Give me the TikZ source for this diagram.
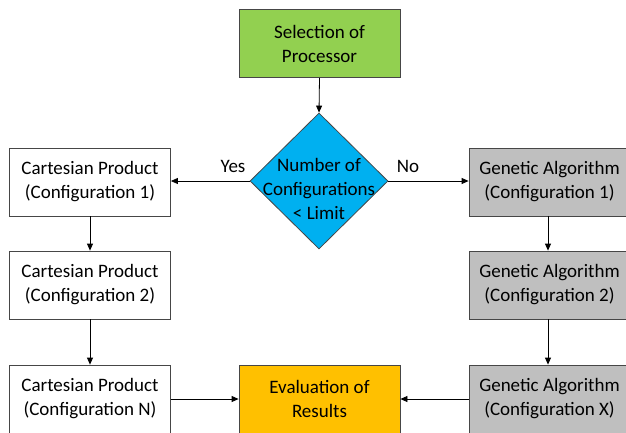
\documentclass[tikz,border=0pt]{standalone}
\usepackage{fontspec}
\setmainfont{Carlito}
\usetikzlibrary{shapes.geometric,arrows.meta}
\definecolor{boxgreen}{RGB}{146,208,80}
\definecolor{boxblue}{RGB}{0,176,240}
\definecolor{boxorange}{RGB}{255,192,0}
\definecolor{boxgray}{RGB}{191,191,191}
\definecolor{edgegray}{RGB}{70,70,70}
\tikzset{
  every node/.style={font=\fontsize{19}{24}\selectfont, align=center, text=black},
  procbox/.style={draw=edgegray, line width=0.8pt, minimum width=161pt, minimum height=68pt, inner sep=0pt},
  decision/.style={diamond, draw=edgegray, line width=0.8pt, fill=boxblue, minimum width=138pt, minimum height=136pt, inner sep=0pt},
  flow/.style={draw=black, line width=0.8pt, -{Triangle[length=7pt,width=6pt]}},
  lbl/.style={inner sep=0pt}
}
\begin{document}
\begin{tikzpicture}[x=1pt,y=-1pt]
  \useasboundingbox (0,0) rectangle (626,432);
  \clip (0,0) rectangle (626,432);
  % start
  \node[procbox, fill=boxgreen] (sel) at (319.5,43.5) {Selection of\\Processor};
  % decision
  \node[decision] (dec) at (319,181) {};
  \node[lbl] (dectext) at (319,189) {Number of\\Configurations\\{<} Limit};
  % cartesian branch
  \node[procbox, fill=white] (cp1) at (90,182) {Cartesian Product\\(Configuration 1)};
  \node[procbox, fill=white] (cp2) at (90,285) {Cartesian Product\\(Configuration 2)};
  \node[procbox, fill=white] (cpn) at (90,399) {Cartesian Product\\(Configuration N)};
  % genetic branch
  \node[procbox, fill=boxgray] (ga1) at (549.5,182) {Genetic Algorithm\\(Configuration 1)};
  \node[procbox, fill=boxgray] (ga2) at (549.5,285) {Genetic Algorithm\\(Configuration 2)};
  \node[procbox, fill=boxgray] (gax) at (549.5,399) {Genetic Algorithm\\(Configuration X)};
  % evaluation
  \node[procbox, fill=boxorange] (eval) at (319.5,399) {Evaluation of\\Results};
  % connectors
  \draw[flow] (sel.south) -- (dec.north);
  \draw[flow] (dec.west) -- (cp1.east |- dec.west);
  \draw[flow] (dec.east) -- (ga1.west |- dec.east);
  \draw[flow] (cp1.south) -- (cp2.north);
  \draw[flow] (cp2.south) -- (cpn.north);
  \draw[flow] ([xshift=-1.5pt]ga1.south) -- ([xshift=-1.5pt]ga2.north);
  \draw[flow] ([xshift=-1.5pt]ga2.south) -- ([xshift=-1.5pt]gax.north);
  \draw[flow] (cpn.east) -- (eval.west);
  \draw[flow] (gax.west) -- (eval.east);
  % branch labels
  \node[lbl] (yes) at (233,166) {Yes};
  \node[lbl] (no) at (408,166) {No};
\end{tikzpicture}
\end{document}
